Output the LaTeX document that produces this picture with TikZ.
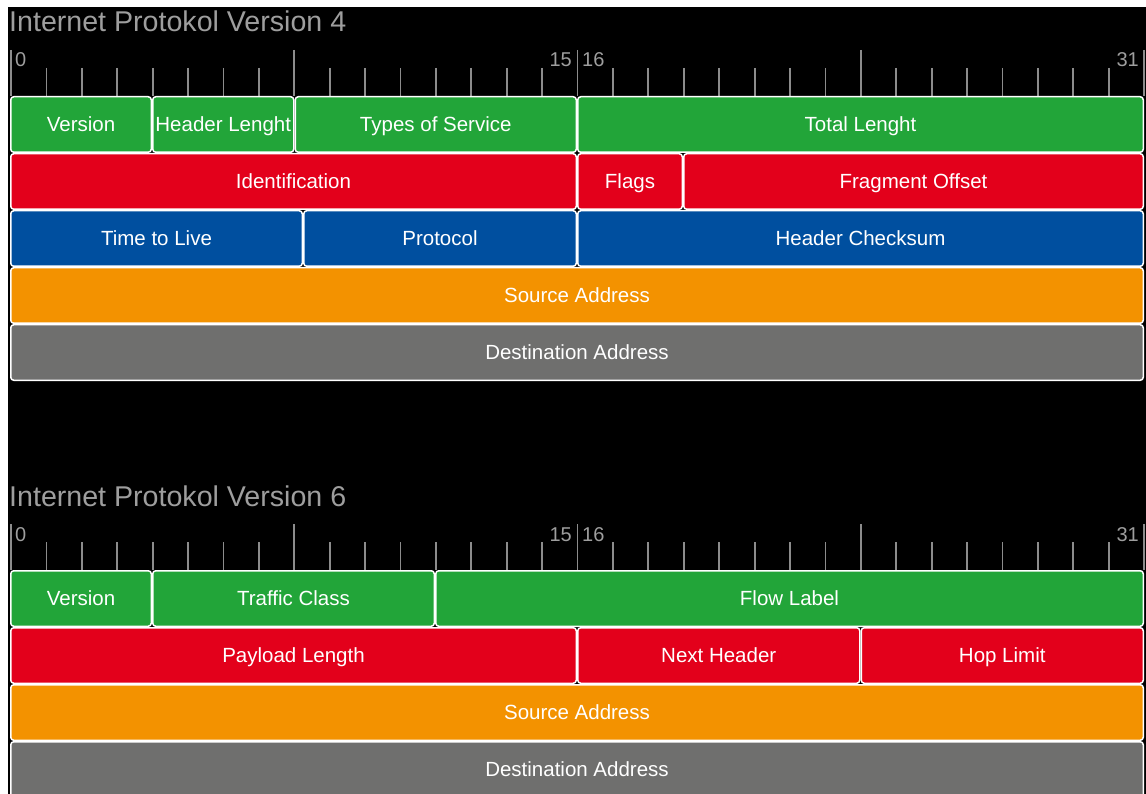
\documentclass[tikz,border=0pt]{standalone}
\usepackage{fontspec}
\setmainfont{Liberation Sans}

\definecolor{fgreen}{RGB}{34,165,57}
\definecolor{fred}{RGB}{227,0,27}
\definecolor{fblue}{RGB}{0,79,159}
\definecolor{forange}{RGB}{243,146,0}
\definecolor{fgray}{RGB}{111,111,110}
\definecolor{labelgray}{RGB}{158,158,158}
\definecolor{tickgray}{RGB}{140,140,140}

\tikzset{
  field/.style={draw=white, line width=1.5pt, rounded corners=3pt, inner sep=0pt,
    text=white, font=\fontsize{20.5}{24}\selectfont, text height=14.5pt, text depth=0pt,
    minimum height=55.5pt},
  heading/.style={text=labelgray, font=\fontsize{28.6}{32}\selectfont, anchor=west,
    inner sep=0pt, text height=20pt, text depth=0pt},
  bitnum/.style={text=labelgray, font=\fontsize{20}{23}\selectfont, inner sep=0pt,
    text height=14pt, text depth=0pt},
  rulerline/.style={draw=tickgray, line width=1.8pt},
}

% \fld{name}{left x}{right x}{top y}{colour}{text}
\newcommand\fld[6]{%
  \node[field, fill=#5, minimum width={#3-#2-1.5}] (#1) at ({(#2+#3)/2},{#4+28.5}) {#6};}

% bit ruler: tall marks every byte, short marks every bit
\newcommand\bitruler[1]{%
  \foreach \b in {0,...,32}{%
    \pgfmathsetmacro\xb{11+35.41*\b}%
    \pgfmathtruncatemacro\tall{(mod(\b,8)==0)}%
    \ifnum\tall=1
      \draw[rulerline] (\xb,50) -- (\xb,96);
    \else
      \draw[rulerline] (\xb,68) -- (\xb,96);
    \fi
  }
  \node[bitnum, anchor=west] (#1b0)  at (15,60)   {0};
  \node[bitnum, anchor=east] (#1b15) at (572,60)  {15};
  \node[bitnum, anchor=west] (#1b16) at (582,60)  {16};
  \node[bitnum, anchor=east] (#1b31) at (1139,60) {31};
}

\begin{document}
\begin{tikzpicture}[x=1pt, y=-1pt]
  \useasboundingbox (0,0) rectangle (1146,794);
  \fill[white] (0,0) rectangle (1146,794);
  \fill[black] (8,7) rectangle (1146,794);

  % IPv4 header
  \begin{scope}
    \node[heading] (v4title) at (9,22) {Internet Protokol Version 4};
    \bitruler{v4}
    \fld{v4ver}{10}{152}{96}{fgreen}{Version}
    \fld{v4ihl}{152}{294.5}{96}{fgreen}{Header Lenght}
    \fld{v4tos}{294.5}{577}{96}{fgreen}{Types of Service}
    \fld{v4len}{577}{1144}{96}{fgreen}{Total Lenght}
    \fld{v4id}{10}{577}{153}{fred}{Identification}
    \fld{v4flags}{577}{683}{153}{fred}{Flags}
    \fld{v4frag}{683}{1144}{153}{fred}{Fragment Offset}
    \fld{v4ttl}{10}{303}{210}{fblue}{Time to Live}
    \fld{v4proto}{303}{577}{210}{fblue}{Protocol}
    \fld{v4chk}{577}{1144}{210}{fblue}{Header Checksum}
    \fld{v4src}{10}{1144}{267}{forange}{Source Address}
    \fld{v4dst}{10}{1144}{324}{fgray}{Destination Address}
  \end{scope}

  % IPv6 header
  \begin{scope}[shift={(0,474)}]
    \node[heading] (v6title) at (9,22) {Internet Protokol Version 6};
    \bitruler{v6}
    \fld{v6ver}{10}{152}{96}{fgreen}{Version}
    \fld{v6tc}{152}{435}{96}{fgreen}{Traffic Class}
    \fld{v6flow}{435}{1144}{96}{fgreen}{Flow Label}
    \fld{v6len}{10}{577}{153}{fred}{Payload Length}
    \fld{v6next}{577}{860.5}{153}{fred}{Next Header}
    \fld{v6hop}{860.5}{1144}{153}{fred}{Hop Limit}
    \fld{v6src}{10}{1144}{210}{forange}{Source Address}
    \fld{v6dst}{10}{1144}{267}{fgray}{Destination Address}
  \end{scope}
\end{tikzpicture}
\end{document}
